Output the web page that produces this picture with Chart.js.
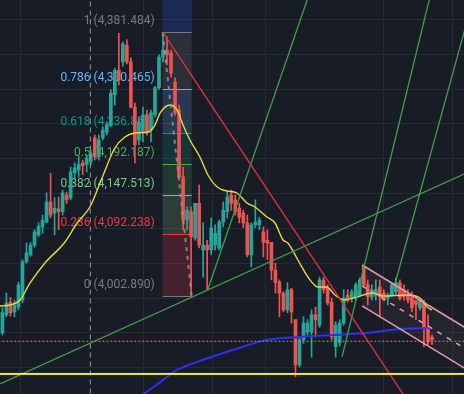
<!DOCTYPE html>
<html>
<head>
<meta charset="utf-8">
<script src="https://cdn.jsdelivr.net/npm/chart.js@4.4.0/dist/chart.umd.min.js"></script>
<style>
  html, body { margin: 0; padding: 0; background: #181c27; }
  canvas { display: block; }
</style>
</head>
<body>
<canvas id="chart" width="464" height="394"></canvas>
<script>
// candles, one per index
const opens = [
  3950, 3976, 3994, 3980, 3987, 3997, 4052, 4062, 4076, 4091,
  4102, 4109, 4138, 4122, 4128, 4124, 4148, 4144, 4180, 4184,
  4194, 4192, 4195, 4230, 4203, 4230, 4238, 4248, 4292, 4327,
  4339, 4363, 4339, 4274, 4227, 4238, 4263, 4241, 4263, 4302,
  4346, 4356, 4352, 4310, 4270, 4174, 4112, 4124, 4086, 4136,
  4069, 4076, 4069, 4076, 4072, 4109, 4124, 4148, 4141, 4129,
  4122, 4108, 4062, 4105, 4105, 4095, 4083, 4080, 4040, 4023,
  4007, 3983, 4012, 3969, 3904, 3940, 3951, 3951, 3976, 3961,
  4026, 4014, 3994, 3930, 3936, 3964, 4004, 4000, 4000, 4004,
  4046, 4019, 4002, 4004, 4016, 4007, 4000, 4004, 4009, 4022,
  4012, 4004, 4002, 3996, 3986, 3994, 3957, 3944
];
const highs = [
  3986, 4007, 4001, 3997, 4023, 4055, 4079, 4080, 4098, 4108,
  4119, 4151, 4179, 4144, 4145, 4155, 4152, 4188, 4194, 4203,
  4198, 4205, 4213, 4234, 4234, 4246, 4253, 4299, 4330, 4380,
  4368, 4371, 4345, 4280, 4260, 4274, 4270, 4270, 4304, 4349,
  4381.5, 4375, 4356, 4316, 4277, 4188, 4131, 4131, 4136, 4162,
  4108, 4083, 4115, 4105, 4112, 4138, 4152, 4155, 4148, 4136,
  4126, 4119, 4108, 4141, 4116, 4102, 4098, 4080, 4050, 4026,
  4009, 4022, 4014, 3969, 3943, 3973, 3969, 3983, 3987, 4030,
  4030, 4019, 4000, 3966, 3969, 4012, 4012, 4012, 4022, 4029,
  4047, 4026, 4019, 4026, 4026, 4012, 4007, 4022, 4029, 4026,
  4019, 4012, 4009, 3997, 3997, 3997, 3976, 3947
];
const lows = [
  3947, 3973, 3974, 3973, 3983, 3993, 4050, 4060, 4073, 4088,
  4093, 4108, 4115, 4091, 4098, 4119, 4136, 4141, 4170, 4174,
  4177, 4181, 4191, 4198, 4198, 4227, 4234, 4246, 4277, 4306,
  4333, 4336, 4273, 4194, 4220, 4224, 4234, 4224, 4260, 4299,
  4339, 4335, 4317, 4263, 4169, 4098, 4098, 4002.9, 4083, 4072,
  4030, 4012, 4062, 4069, 4069, 4102, 4115, 4126, 4119, 4108,
  4101, 4059, 4045, 4101, 4098, 4059, 4055, 4026, 4007, 3973,
  3980, 3979, 3964, 3887, 3901, 3935, 3947, 3915, 3944, 3958,
  4007, 3990, 3940, 3915, 3931, 3961, 3994, 3994, 3997, 4002,
  4016, 3990, 3997, 3997, 3973, 3997, 3990, 4002, 4006, 3997,
  3997, 3993, 3980, 3969, 3983, 3930, 3933, 3933
];
const closes = [
  3979, 3993, 3979, 3990, 4019, 4052, 4065, 4076, 4095, 4103,
  4112, 4138, 4119, 4129, 4124, 4151, 4141, 4181, 4187, 4192,
  4190, 4201, 4208, 4203, 4227, 4241, 4248, 4294, 4327, 4313,
  4365, 4339, 4274, 4220, 4253, 4263, 4237, 4266, 4302, 4346,
  4356, 4349, 4323, 4266, 4174, 4112, 4126, 4088, 4136, 4076,
  4076, 4069, 4101, 4093, 4109, 4126, 4145, 4136, 4124, 4116,
  4108, 4062, 4105, 4109, 4112, 4080, 4079, 4040, 4022, 4007,
  3983, 4012, 3980, 3904, 3940, 3964, 3964, 3976, 3969, 4026,
  4012, 3993, 3944, 3961, 3964, 4000, 3997, 4009, 4019, 4026,
  4019, 4002, 4012, 4012, 4002, 3997, 4004, 4019, 4022, 4000,
  4002, 3997, 3986, 3991, 3997, 3957, 3937, 3940
];

// moving averages
const maIdx = [-0.6, 1.9, 4.4, 6.9, 10.6, 15.6, 18.6, 21.8, 24.8, 28.0, 30.5, 33.0, 36.3, 38.0, 39.3,
  41.7, 43.5, 45.0, 46.7, 49.2, 51.2, 53.5, 55.9, 58.4, 60.9, 62.9, 65.9, 67.9, 69.9, 71.1, 73.6,
  76.1, 78.6, 80.8, 82.8, 85.3, 88.3, 92.3, 94.8, 100.8, 104.0, 105.8, 107.0];
const maVals = [3988.6, 3990.0, 3997.2, 4021.6, 4050.3, 4080.5, 4107.7, 4130.7, 4172.3, 4215.4, 4231.2,
  4236.9, 4238.4, 4248.4, 4265.7, 4277.2, 4270.0, 4248.4, 4226.9, 4202.5, 4176.6, 4159.4, 4153.7,
  4150.8, 4136.5, 4130.7, 4116.4, 4107.7, 4083.3, 4079.0, 4054.6, 4030.2, 4015.9, 4015.9, 4004.4,
  3997.2, 4001.5, 4007.2, 4002.9, 4004.4, 4000.1, 3987.1, 3982.8];
const slowIdx = [34.3, 38.0, 41.0, 43.5, 49.2, 57.4, 65.9, 74.1, 82.3, 90.8, 99.0, 106.5];
const slowVals = [3859.0, 3873.7, 3886.6, 3896.7, 3909.6, 3925.4, 3939.8, 3944.1, 3946.9, 3949.8, 3955.6, 3957.0];

// drawings
const fibRatios = [1.618, 1, 0.786, 0.618, 0.5, 0.382, 0.236, 0];
const fibPrices = [4615.469, 4381.484, 4300.465, 4236.861, 4192.187, 4147.513, 4092.238, 4002.890];
const fibColors = ["#2962ff", "#787b86", "#64b5f6", "#089981", "#4caf50", "#81c784", "#f23645", "#787b86"];
const fibFrom = 39.9, fibTo = 47.15;

const redIdx = [40.0, 101.5], redVals = [4381.5, 3847.2];
const green1Idx = [-0.6, 115.0], green1Vals = [3876.6, 4178.1];
const green2Idx = [51.2, 76.5], green2Vals = [4013.0, 4438.0];
const green3Idx = [84.6, 106.8], green3Vals = [3915.4, 4439.7];
const green4Idx = [97.9, 118.0], green4Vals = [4023.0, 4445.0];
const chanIdx = [89.6, 115.0];
const chanTop = [4047.4, 3958.4], chanMid = [4017.3, 3928.3], chanBot = [3988.6, 3899.6];
const whiteLevel = 3891.7, yellowLevel = 3890.3, lastPrice = 3937.9;
const vLineIdx = 21.9;

const gridX = [4.56, 35.09, 52.38, 65.53, 94.87, 112.15];
const gridY = [3900, 3950, 4000, 4050, 4100, 4150, 4200, 4250, 4300, 4350, 4400];

const up = "#26a69a", down = "#ef5350";
const pts = (xs, ys) => xs.map((x, k) => ({ x, y: ys[k] }));
const flat = (y) => [{ x: -2, y }, { x: 118, y }];

const fibPlugin = {
  id: "fib",
  beforeDatasetsDraw(chart) {
    const { ctx, scales: { x, y } } = chart;
    const x0 = x.getPixelForValue(fibFrom), x1 = x.getPixelForValue(fibTo);
    ctx.save();
    for (let k = 0; k < fibPrices.length - 1; k++) {
      const ya = y.getPixelForValue(fibPrices[k]), yb = y.getPixelForValue(fibPrices[k + 1]);
      ctx.globalAlpha = 0.2;
      ctx.fillStyle = fibColors[k];
      ctx.fillRect(x0, ya, x1 - x0, yb - ya);
    }
    ctx.globalAlpha = 1;
    ctx.font = "12px Roboto";
    ctx.textAlign = "right";
    ctx.textBaseline = "middle";
    fibPrices.forEach((p, k) => {
      const py = Math.round(y.getPixelForValue(p)) + 0.5;
      if (py < 0) return;
      ctx.strokeStyle = fibColors[k];
      ctx.lineWidth = 1;
      ctx.beginPath(); ctx.moveTo(x0, py); ctx.lineTo(x1, py); ctx.stroke();
      ctx.fillStyle = fibColors[k];
      const txt = fibRatios[k] + " (" + p.toLocaleString("en-US", { minimumFractionDigits: 3 }) + ")";
      ctx.fillText(txt, x0 - 8, py - 12);
    });
    ctx.restore();
  }
};

const line = (data, color, width, order, extra) => Object.assign({
  type: "line", data, borderColor: color, borderWidth: width, pointRadius: 0, fill: false, order
}, extra || {});

const datasets = [
  line(flat(whiteLevel), "#e6e6e6", 1, 0),
  line(flat(yellowLevel), "#f2e23c", 1, 0),
  line(flat(lastPrice), "#e8707a", 1, 0, { borderDash: [2, 2] }),
  line([{ x: vLineIdx, y: 3850 }, { x: vLineIdx, y: 4440 }], "#9598a1", 1, 0, { borderDash: [5, 4] }),
  line(pts(redIdx, redVals), "#d9333f", 1.4, 1),
  line(pts(green1Idx, green1Vals), "#43a047", 1.3, 1),
  line(pts(green2Idx, green2Vals), "#43a047", 1.3, 1),
  line(pts(green3Idx, green3Vals), "#43a047", 1.3, 1),
  line(pts(green4Idx, green4Vals), "#43a047", 1.3, 1),
  line([{ x: fibFrom, y: fibPrices[1] }, { x: fibTo, y: fibPrices[7] }], "rgba(150,152,160,0.8)", 2, 1, { borderDash: [4, 5] }),
  line(pts(chanIdx, chanMid), "#e39ea6", 1.5, 1, { borderDash: [5, 6] }),
  line(pts(chanIdx, chanBot), "#e39ea6", 1.5, 1),
  line(pts(chanIdx, chanTop), "#e39ea6", 1.5, 1),
  line(pts(maIdx, maVals), "#e8d83a", 1.4, 2, { cubicInterpolationMode: "monotone" }),
  line(pts(slowIdx, slowVals), "#2f2ff0", 2, 2, { cubicInterpolationMode: "monotone" }),
  {
    type: "bar", order: 3, grouped: false, barThickness: 3, minBarLength: 1,
    data: opens.map((o, i) => ({ x: i, y: [o, closes[i]] })),
    backgroundColor: c => closes[c.dataIndex] >= opens[c.dataIndex] ? up : down
  },
  {
    type: "bar", order: 4, grouped: false, barThickness: 1,
    data: lows.map((l, i) => ({ x: i, y: [l, highs[i]] })),
    backgroundColor: c => closes[c.dataIndex] >= opens[c.dataIndex] ? up : down
  }
];
// channel fill between top and bottom border
const botIndex = 11;
datasets[12].fill = { target: botIndex, above: "rgba(240,170,180,0.06)", below: "rgba(240,170,180,0.06)" };

new Chart(document.getElementById("chart"), {
  type: "bar",
  data: { datasets },
  options: {
    responsive: false,
    animation: false,
    events: [],
    layout: { padding: 0 },
    plugins: { legend: { display: false }, tooltip: { enabled: false } },
    scales: {
      x: {
        type: "linear", min: -0.6, max: 114.97, offset: false,
        ticks: { display: false },
        border: { display: false },
        grid: { color: "#262a36", drawTicks: false, offset: false },
        afterBuildTicks: s => { s.ticks = gridX.map(v => ({ value: v })); }
      },
      y: {
        type: "linear", min: 3862.2, max: 4427.9,
        ticks: { display: false },
        border: { display: false },
        grid: { color: "#262a36", drawTicks: false },
        afterBuildTicks: s => { s.ticks = gridY.map(v => ({ value: v })); }
      }
    }
  },
  plugins: [fibPlugin]
});
</script>
</body>
</html>
